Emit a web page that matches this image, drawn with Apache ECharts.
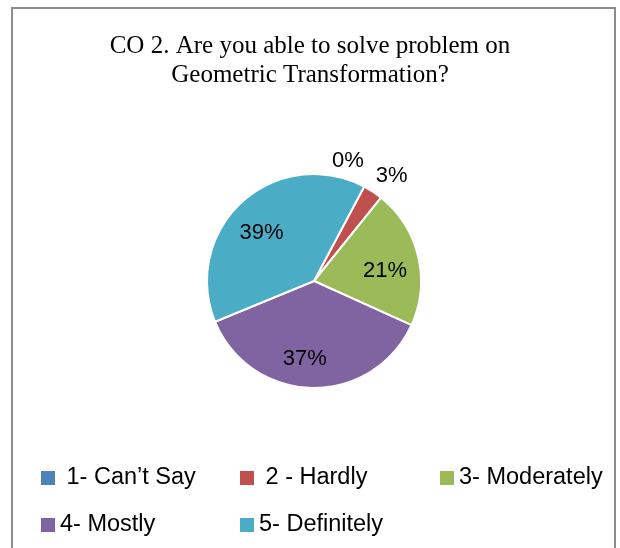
<!DOCTYPE html>
<html>
<head>
<meta charset="utf-8">
<script src="https://cdn.jsdelivr.net/npm/echarts@6/dist/echarts.min.js"></script>
<style>
  html, body { margin: 0; padding: 0; background: #fff; }
</style>
</head>
<body>
<div id="co2-pie" style="width: 620px; height: 548px;"></div>
<script>
// answers and their share of responses (%)
const categories = [' 1- Can\u2019t Say', ' 2 - Hardly', '3- Moderately', '4- Mostly', '5- Definitely'];
const values = [0, 3, 21, 37, 39];
const colors = ['#4F81BD', '#C0504D', '#9BBB59', '#8064A2', '#4BACC6'];
const outsideIdx = [0, 1]; // small slices get their label outside

const chart = echarts.init(document.getElementById('co2-pie'));

const pieCenter = [314, 281];
const pctLabel = function (p) { return Math.round(p.percent) + '%'; };
const labelFont = { fontFamily: 'Liberation Sans, Arial, sans-serif', fontSize: 22, color: '#000' };

function buildData(showOutside) {
  return categories.map(function (name, i) {
    const isOut = outsideIdx.indexOf(i) >= 0;
    return {
      name: name,
      value: values[i],
      label: { show: showOutside ? isOut : !isOut }
    };
  });
}

// legend: one small legend per entry so they sit in the same grid as the picture
const legendSpots = [
  [41, 466], [240, 466], [440, 466],
  [41, 513], [240, 513]
];
const legends = categories.map(function (name, i) {
  return {
    data: [name],
    left: legendSpots[i][0],
    top: legendSpots[i][1],
    padding: 0,
    icon: 'rect',
    itemWidth: 14,
    itemHeight: 14,
    itemStyle: { borderWidth: 0, borderColor: 'transparent' },
    selectedMode: false,
    textStyle: { fontFamily: 'Liberation Sans, Arial, sans-serif', fontSize: 23.5, color: '#000' }
  };
});

const option = {
  color: colors,
  animation: false,
  title: {
    text: 'CO 2. Are you able to solve problem on\nGeometric Transformation?',
    left: 'center',
    top: 32,
    padding: [0, 0, 0, 14],
    textStyle: {
      fontFamily: 'Liberation Serif, Times New Roman, serif',
      fontWeight: 'normal',
      fontSize: 25,
      lineHeight: 29,
      color: '#000'
    }
  },
  graphic: [{
    type: 'rect',
    silent: true,
    shape: { x: 12, y: 8, width: 603, height: 560 },
    style: { fill: 'none', stroke: '#8c8c8c', lineWidth: 2 }
  }],
  legend: legends,
  series: [
    {
      // the visible pie
      name: 'main',
      type: 'pie',
      center: pieCenter,
      radius: 107,
      startAngle: 62,
      clockwise: true,
      avoidLabelOverlap: false,
      label: { show: false },
      labelLine: { show: false },
      itemStyle: { borderColor: '#fff', borderWidth: 2 },
      emphasis: { disabled: true },
      data: categories.map(function (n, i) { return { name: n, value: values[i] }; })
    },
    {
      // invisible pie, only used to place inner labels further out
      name: 'inner-labels',
      type: 'pie',
      silent: true,
      center: pieCenter,
      radius: 144,
      startAngle: 62,
      avoidLabelOverlap: false,
      itemStyle: { color: 'rgba(0,0,0,0)' },
      label: Object.assign({ position: 'inside', formatter: pctLabel }, labelFont),
      labelLine: { show: false },
      labelLayout: function (params) {
        // nudge like the original's label placement
        if (params.dataIndex === 3) return { dx: -8, dy: 3 };
        return { dx: -2, dy: 7 };
      },
      emphasis: { disabled: true },
      data: buildData(false)
    },
    {
      // invisible pie for the outside labels of the tiny slices
      name: 'outer-labels',
      type: 'pie',
      silent: true,
      center: pieCenter,
      radius: 262,
      startAngle: 62,
      avoidLabelOverlap: false,
      itemStyle: { color: 'rgba(0,0,0,0)' },
      label: Object.assign({ position: 'inside', formatter: pctLabel }, labelFont),
      labelLine: { show: false },
      labelLayout: function (params) {
        // zero slice label is pushed left to clear the 3% one
        if (params.dataIndex === 0) return { dx: -29, dy: -2 };
        return { dx: 4, dy: 7 };
      },
      emphasis: { disabled: true },
      data: buildData(true)
    }
  ]
};

chart.setOption(option);
</script>
</body>
</html>
